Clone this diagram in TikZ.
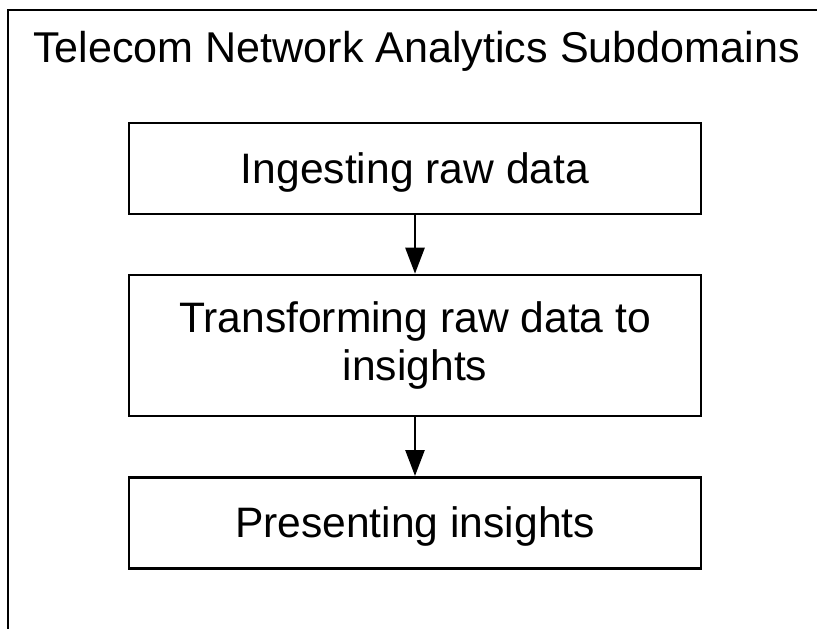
\documentclass[tikz,border=0pt]{standalone}
\usepackage{fontspec}
\setmainfont{Liberation Sans}
\usetikzlibrary{arrows.meta}

\tikzset{
  frameline/.style={line width=2.6pt, line join=miter},
  stagebox/.style={draw, line width=2.6pt, minimum width=572pt, inner sep=0pt,
    font=\fontsize{42.6}{48.8}\selectfont, align=center},
  onerow/.style={text height=38pt, text depth=8pt},
  flowarrow/.style={line width=2.6pt, -{Triangle[length=26pt, width=19pt]}},
  titletext/.style={font=\fontsize{43.1}{49}\selectfont, inner sep=0pt, anchor=base west}
}

\begin{document}
\begin{tikzpicture}[x=1pt, y=-1pt]
  \useasboundingbox (0,0) rectangle (817,629);

  % outer frame, running off the right and bottom edges
  \coordinate (frameTR) at (819,10);
  \coordinate (frameTL) at (8,10);
  \coordinate (frameBL) at (8,631);
  \draw[frameline] (frameTR) -- (frameTL) -- (frameBL);

  \node[titletext] (title) at (33,62) {Telecom Network Analytics Subdomains};

  \node[stagebox, onerow, minimum height=91pt] (ingest) at (415,168.5) {Ingesting raw data};
  \node[stagebox, minimum height=141pt] (transform) at (415,345.5) {Transforming raw data to\\insights};
  \node[stagebox, onerow, minimum height=91pt] (present) at (415,522.8) {Presenting insights};

  \draw[flowarrow] (ingest) -- (transform);
  \draw[flowarrow] (transform) -- (present);
\end{tikzpicture}
\end{document}
